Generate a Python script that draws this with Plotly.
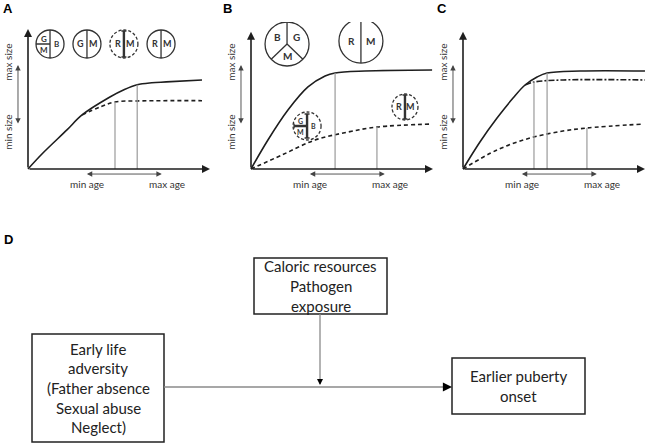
import plotly.graph_objects as go

# growth curves (age, size), arbitrary units
a_solid_age = [0, 0.82, 2.14, 2.97, 4.5, 5.3, 6.0, 6.8, 7.6, 9.56]
a_solid_size = [0, 1.14, 2.79, 3.86, 5.14, 5.68, 6.02, 6.16, 6.22, 6.36]
a_dash_age = [2.97, 3.96, 4.78, 6.0, 9.56]
a_dash_size = [3.86, 4.43, 4.79, 4.86, 4.88]
a_stop_age = [4.78, 6.0]
a_stop_size = [4.79, 6.02]

b_solid_age = [0, 0.93, 2.03, 3.13, 4.07, 4.62, 6.26, 9.95]
b_solid_size = [0, 2.07, 4.21, 5.86, 6.64, 6.86, 7.0, 7.07]
b_dash_age = [0, 1.7, 3.52, 5.33, 6.92, 9.95]
b_dash_size = [0, 1.0, 2.07, 2.64, 3.0, 3.21]
b_stop_age = [4.62, 6.92]
b_stop_size = [6.86, 3.0]

c_solid_age = [0, 0.93, 1.87, 2.75, 3.41, 4.07, 4.62, 6.43, 10.0]
c_solid_size = [0, 1.93, 3.64, 5.07, 6.0, 6.57, 6.86, 7.0, 7.0]
c_dashdot_age = [3.41, 3.9, 5.5, 10.0]
c_dashdot_size = [6.0, 6.21, 6.36, 6.36]
c_dash_age = [0, 1.87, 3.68, 5.49, 6.81, 9.89]
c_dash_size = [0, 1.36, 2.21, 2.71, 2.93, 3.21]
c_stop_age = [3.9, 4.62, 6.81]
c_stop_size = [6.21, 6.86, 2.93]

age_labels = ["min age", "max age"]
age_label_pos = [3.24, 7.64]
age_span = [3.15, 7.35]
size_labels = ["min size", "max size"]
size_label_pos = [2.64, 7.64]
size_span = [3.14, 7.43]

panel_letters = ["A", "B", "C", "D"]

# panel D flow chart text
caloric_lines = ["Caloric resources", "Pathogen", "exposure"]
adversity_lines = ["Early life", "adversity", "(Father absence", "Sexual abuse", "Neglect)"]
puberty_lines = ["Earlier puberty", "onset"]

W, H = 649, 447
SX, SY = 18.2, 14.0
XR = [-1.5, 10.2]
YR = [-1.5, 10.5]
origins = [(28, 169), (251, 169), (463, 169)]
INK = "#1e1e1e"
GREY = "#9a9a9a"
FONT = "Lato"


def fx(p):
    return p / W


def fy(p):
    return 1 - p / H


fig = go.Figure()
annotations = []
shapes = []


def ax_ids(k):
    s = "" if k == 0 else str(k + 1)
    return "x" + s, "y" + s


def curve(k, xs, ys, dash="solid", width=1.6):
    xa, ya = ax_ids(k)
    fig.add_trace(go.Scatter(x=xs, y=ys, mode="lines", xaxis=xa, yaxis=ya,
                             line=dict(color=INK, width=width, dash=dash, shape="spline", smoothing=1.0),
                             hoverinfo="skip", showlegend=False))


def stops(k, xs, ys):
    xa, ya = ax_ids(k)
    for x, y in zip(xs, ys):
        fig.add_trace(go.Scatter(x=[x, x], y=[0, y], mode="lines", xaxis=xa, yaxis=ya,
                                 line=dict(color=GREY, width=1.2), hoverinfo="skip", showlegend=False))


def arrow(k, x0, y0, x1, y1, both=False, width=1.6, color=INK, size=1.0):
    xa, ya = ax_ids(k)
    a = dict(xref=xa, yref=ya, axref=xa, ayref=ya, x=x1, y=y1, ax=x0, ay=y0, text="",
             showarrow=True, arrowhead=2, arrowsize=size, arrowwidth=width, arrowcolor=color)
    if both:
        a.update(arrowside="end+start", startarrowhead=2, startarrowsize=size)
    annotations.append(a)


def txt(k, x, y, s, size=10, dx=0, dy=0, angle=0, bold=False, color="#333"):
    xa, ya = ax_ids(k)
    annotations.append(dict(xref=xa, yref=ya, x=x, y=y, xshift=dx, yshift=dy, text=("<b>%s</b>" % s) if bold else s,
                            xanchor="center", yanchor="middle",
                            showarrow=False, textangle=angle, font=dict(family=FONT, size=size, color=color)))


def circ(k, cx, cy, r, dashed=False):
    xa, ya = ax_ids(k)
    shapes.append(dict(type="circle", xref=xa, yref=ya, xsizemode="pixel", ysizemode="pixel",
                       xanchor=cx, yanchor=cy, x0=-r, x1=r, y0=-r, y1=r,
                       line=dict(color="#333", width=1.3, dash="3px,2px" if dashed else "solid")))


def seg(k, cx, cy, x0, y0, x1, y1, width=1.3):
    xa, ya = ax_ids(k)
    shapes.append(dict(type="line", xref=xa, yref=ya, xsizemode="pixel", ysizemode="pixel",
                       xanchor=cx, yanchor=cy, x0=x0, x1=x1, y0=y0, y1=y1,
                       line=dict(color="#333", width=width)))


def ibeam(k, cx, cy, half, vertical=True):
    if vertical:
        seg(k, cx, cy, 0, -half, 0, half, 2.4)
        seg(k, cx, cy, -2.5, half, 2.5, half, 1.3)
        seg(k, cx, cy, -2.5, -half, 2.5, -half, 1.3)
    else:
        seg(k, cx, cy, -half, 0, 0, 0, 2.4)
        seg(k, cx, cy, -half, -2.5, -half, 2.5, 1.3)


def two_split(k, cx, cy, r, left, right, dashed=False, size=9):
    circ(k, cx, cy, r, dashed)
    if dashed:
        ibeam(k, cx, cy, r - 1)
    else:
        seg(k, cx, cy, 0, -r, 0, r)
    txt(k, cx, cy, left, size, dx=-r * 0.45, bold=True)
    txt(k, cx, cy, right, size, dx=r * 0.45, bold=True)


def gmb(k, cx, cy, r, dashed=False, size=8):
    circ(k, cx, cy, r, dashed)
    if dashed:
        ibeam(k, cx, cy, r - 2)
        ibeam(k, cx, cy, r - 1, vertical=False)
    else:
        seg(k, cx, cy, 0, -r, 0, r)
        seg(k, cx, cy, -r, 0, 0, 0)
    txt(k, cx, cy, "G", size, dx=-r * 0.45, dy=r * 0.38, bold=True)
    txt(k, cx, cy, "M", size, dx=-r * 0.45, dy=-r * 0.42, bold=True)
    txt(k, cx, cy, "B", size, dx=r * 0.45, bold=True)


def bgm(k, cx, cy, r, size=10):
    circ(k, cx, cy, r)
    seg(k, cx, cy, 0, 0, 0, r)
    seg(k, cx, cy, 0, 0, -r * 0.72, -r * 0.69)
    seg(k, cx, cy, 0, 0, r * 0.72, -r * 0.69)
    txt(k, cx, cy, "B", size, dx=-r * 0.45, dy=r * 0.3, bold=True)
    txt(k, cx, cy, "G", size, dx=r * 0.45, dy=r * 0.3, bold=True)
    txt(k, cx, cy, "M", size, dy=-r * 0.55, bold=True)


# curves
curve(0, a_solid_age, a_solid_size)
curve(0, a_dash_age, a_dash_size, dash="4px,3px")
stops(0, a_stop_age, a_stop_size)
curve(1, b_solid_age, b_solid_size)
curve(1, b_dash_age, b_dash_size, dash="4px,3px")
stops(1, b_stop_age, b_stop_size)
curve(2, c_solid_age, c_solid_size)
curve(2, c_dashdot_age, c_dashdot_size, dash="6px,2px,2px,2px")
curve(2, c_dash_age, c_dash_size, dash="4px,3px")
stops(2, c_stop_age, c_stop_size)

for k in range(3):
    arrow(k, 0, 0, 10.0, 0, width=1.6)
    arrow(k, 0, 0, 0, 10.0 if k == 0 else 9.8, width=1.6)
    arrow(k, age_span[0], -0.36, age_span[1], -0.36, both=True, width=0.9, color="#444", size=1.2)
    arrow(k, -0.55, size_span[0], -0.55, size_span[1], both=True, width=0.9, color="#444", size=1.2)
    for lab, p in zip(age_labels, age_label_pos):
        txt(k, p, -1.07, lab, 10)
    for lab, p in zip(size_labels, size_label_pos):
        txt(k, -1.12, p, lab, 10, angle=-90)

# genotype circles, panel A
gmb(0, 1.21, 8.93, 14)
two_split(0, 3.24, 8.93, 14, "G", "M")
two_split(0, 5.27, 8.93, 14, "R", "M", dashed=True)
two_split(0, 7.31, 8.93, 14, "R", "M")
# panel B
bgm(1, 1.98, 8.93, 22)
two_split(1, 6.04, 9.14, 22, "R", "M", size=10)
gmb(1, 3.08, 3.07, 14, dashed=True, size=7)
two_split(1, 8.46, 4.43, 13, "R", "M", dashed=True)

# panel letters
for lab, (xp, yp) in zip(panel_letters, [(8, 8), (227, 8), (442, 8), (8, 239)]):
    annotations.append(dict(xref="paper", yref="paper", x=fx(xp), y=fy(yp), text="<b>%s</b>" % lab,
                            xanchor="center", yanchor="middle",
                            showarrow=False, font=dict(family="Arial", size=13, color="black")))

# panel D boxes
boxes = [(caloric_lines, 254, 258, 387, 314),
         (adversity_lines, 32, 334, 164, 442),
         (puberty_lines, 452, 358, 585, 414)]
for lines, x0, y0, x1, y1 in boxes:
    shapes.append(dict(type="rect", xref="paper", yref="paper", x0=fx(x0), x1=fx(x1), y0=fy(y1), y1=fy(y0),
                       line=dict(color="#222", width=1.5), fillcolor="white", layer="below"))
    cy = (y0 + y1) / 2
    n = len(lines)
    for i, s in enumerate(lines):
        yy = cy + (i - (n - 1) / 2) * 19.6
        annotations.append(dict(xref="paper", yref="paper", x=fx((x0 + x1) / 2), y=fy(yy), text=s,
                                xanchor="center", yanchor="middle",
                                showarrow=False, font=dict(family=FONT, size=15, color="#222")))

# connectors
shapes.append(dict(type="line", xref="paper", yref="paper", x0=fx(164), x1=fx(446), y0=fy(387), y1=fy(387),
                   line=dict(color="#8a8a8a", width=1.3)))
shapes.append(dict(type="line", xref="paper", yref="paper", x0=fx(320), x1=fx(320), y0=fy(314), y1=fy(381),
                   line=dict(color="#8a8a8a", width=1.3)))
annotations.append(dict(xref="paper", yref="paper", x=fx(452), y=fy(387), ax=-8, ay=0, text="",
                        showarrow=True, arrowhead=2, arrowsize=1.4, arrowwidth=1.3, arrowcolor="black"))
annotations.append(dict(xref="paper", yref="paper", x=fx(320), y=fy(385), ax=0, ay=-6, text="",
                        showarrow=True, arrowhead=2, arrowsize=1, arrowwidth=1.2, arrowcolor="black"))

layout_axes = {}
for k, (ox, oy) in enumerate(origins):
    xa, ya = ax_ids(k)
    xkey = "xaxis" + xa[1:]
    ykey = "yaxis" + ya[1:]
    layout_axes[xkey] = dict(domain=[fx(ox + XR[0] * SX), fx(ox + XR[1] * SX)], range=XR, visible=False,
                             anchor=ya, fixedrange=True)
    layout_axes[ykey] = dict(domain=[fy(oy - YR[0] * SY), fy(oy - YR[1] * SY)], range=YR, visible=False,
                             anchor=xa, fixedrange=True)

fig.update_layout(width=W, height=H, margin=dict(l=0, r=0, t=0, b=0),
                  paper_bgcolor="white", plot_bgcolor="white",
                  annotations=annotations, shapes=shapes, showlegend=False, **layout_axes)

fig.write_html("out.html", config={"displayModeBar": False},
               post_script="document.body.style.margin='0px';")
